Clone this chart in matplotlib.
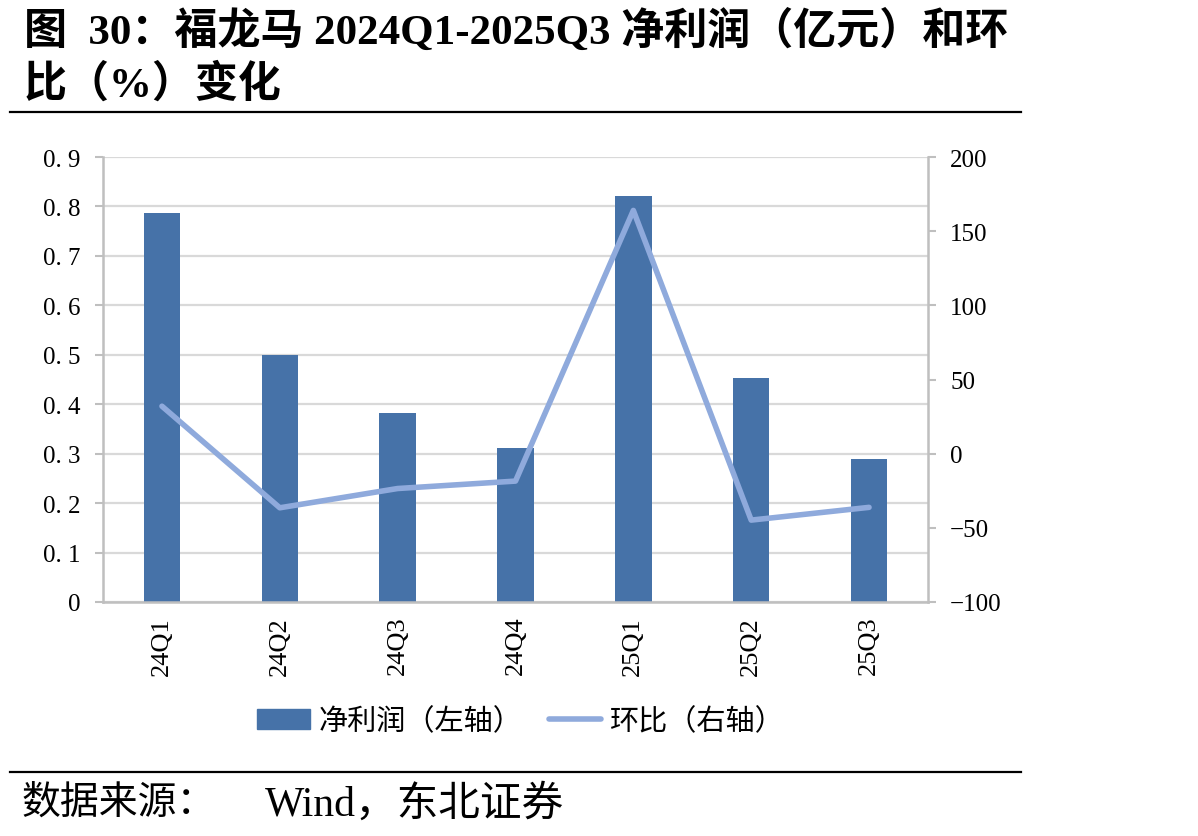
import matplotlib
matplotlib.use("Agg")
import matplotlib.pyplot as plt
from matplotlib.lines import Line2D
from matplotlib.patches import Patch
import numpy as np

plt.rcParams['font.family'] = ['Liberation Serif', 'Noto Sans CJK SC']
plt.rcParams['axes.unicode_minus'] = True

quarters = ['24Q1', '24Q2', '24Q3', '24Q4', '25Q1', '25Q2', '25Q3']
net_profit = [0.787, 0.499, 0.382, 0.311, 0.821, 0.453, 0.289]   # 亿元
qoq = [32.0, -36.5, -23.5, -18.5, 164.0, -44.8, -36.2]            # %

bar_color = '#4672A8'
line_color = '#8FAADC'
axis_grey = '#BFBFBF'

fig = plt.figure(figsize=(11.98, 8.37), dpi=100)

# title and rules
fig.text(0.020, 0.962, '图  30：福龙马 2024Q1-2025Q3 净利润（亿元）和环',
         fontsize=31, weight='bold', va='center', ha='left')
fig.text(0.020, 0.899, '比（%）变化', fontsize=31, weight='bold', va='center', ha='left')
fig.add_artist(Line2D([0.008, 0.852], [0.865, 0.865], color='black', lw=1.6))
fig.add_artist(Line2D([0.008, 0.852], [0.077, 0.077], color='black', lw=1.6))
fig.text(0.018, 0.038, '数据来源：', fontsize=28, va='center', ha='left')
fig.text(0.221, 0.038, 'Wind，东北证券', fontsize=30, va='center', ha='left')

ax = fig.add_axes([0.086, 0.2796, 0.6886, 0.5316])
x = np.arange(len(quarters))
ax.bar(x, net_profit, width=0.31, color=bar_color, zorder=2)
ax.set_xlim(-0.5, len(quarters) - 0.5)
ax.set_ylim(0, 0.9)
ax.set_yticks(np.arange(0, 0.91, 0.1))
ax.set_yticklabels(['0'] + [f'0. {i}' for i in range(1, 10)])
ax.set_xticks(x)
ax.set_xticklabels(quarters, rotation=90)
ax.yaxis.grid(True, color='#D9D9D9', lw=1.6, zorder=0)
ax.set_axisbelow(True)
for s in ['top', 'right']:
    ax.spines[s].set_visible(False)
for s in ['left', 'bottom']:
    ax.spines[s].set_color(axis_grey)
    ax.spines[s].set_linewidth(1.8)
ax.tick_params(axis='y', length=6, width=1.5, color=axis_grey, labelsize=18, pad=10)
ax.tick_params(axis='x', length=0, labelsize=19, pad=10)

ax2 = ax.twinx()
ax2.plot(x, qoq, color=line_color, lw=4, solid_capstyle='round', zorder=3)
ax2.set_ylim(-100, 200)
ax2.set_yticks(np.arange(-100, 201, 50))
for s in ['top', 'left', 'bottom']:
    ax2.spines[s].set_visible(False)
ax2.spines['right'].set_color(axis_grey)
ax2.spines['right'].set_linewidth(1.8)
ax2.tick_params(axis='y', length=6, width=1.5, color=axis_grey, labelsize=18, pad=10)

handles = [Patch(color=bar_color), Line2D([0], [0], color=line_color, lw=4, solid_capstyle='round')]
labels = ['净利润（左轴）', '环比（右轴）']
fig.legend(handles, labels, loc='center', bbox_to_anchor=(0.435, 0.137), ncol=2,
           frameon=False, handlelength=1.8, handletextpad=0.3, columnspacing=0.9,
           prop={'family': ['Noto Sans CJK SC'], 'size': 21})

fig.savefig('out.png', dpi=100)
